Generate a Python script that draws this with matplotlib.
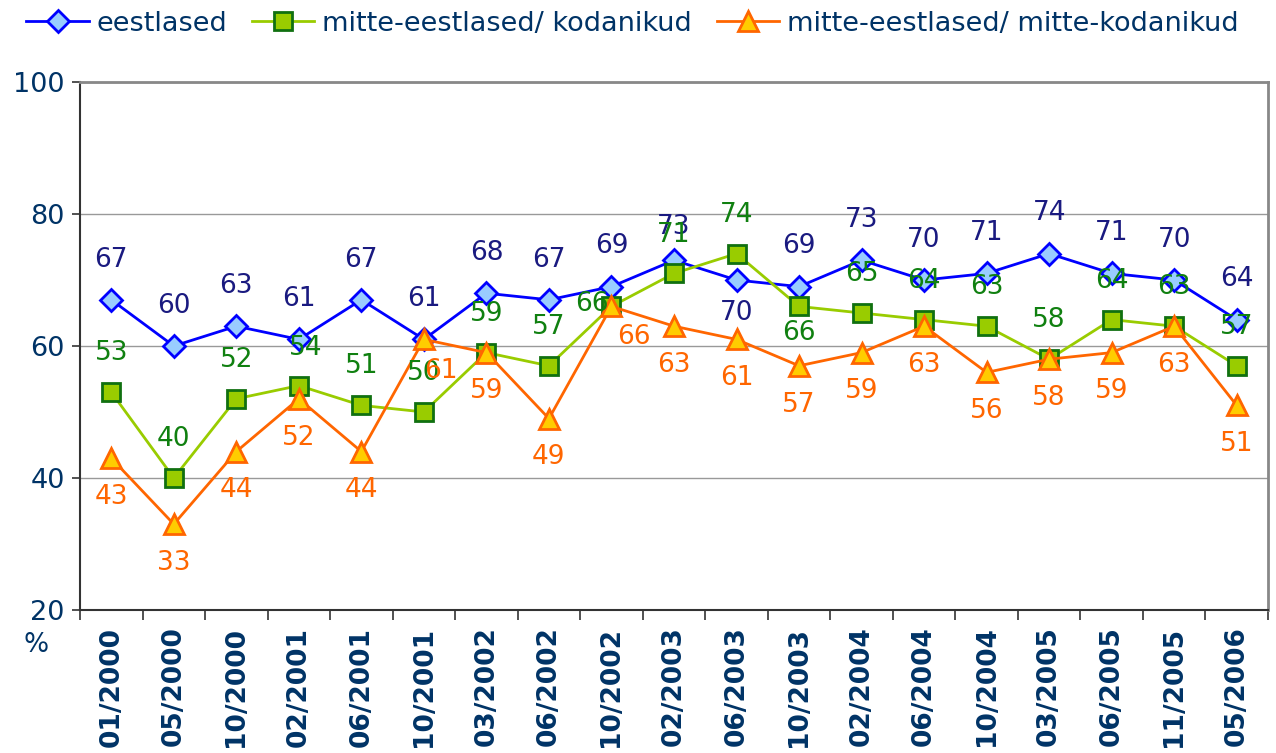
"""Umfrage-Zeitreihe: drei Gruppen, Anteil in %."""

import matplotlib
matplotlib.use("Agg")
import matplotlib.pyplot as plt
import numpy as np

periods = ["01/2000", "05/2000", "10/2000", "02/2001", "06/2001", "10/2001",
           "03/2002", "06/2002", "10/2002", "02/2003", "06/2003", "10/2003",
           "02/2004", "06/2004", "10/2004", "03/2005", "06/2005", "11/2005",
           "05/2006"]
eestlased = [67, 60, 63, 61, 67, 61, 68, 67, 69, 73, 70, 69, 73, 70, 71, 74, 71, 70, 64]
kodanikud = [53, 40, 52, 54, 51, 50, 59, 57, 66, 71, 74, 66, 65, 64, 63, 58, 64, 63, 57]
mitte_kodanikud = [43, 33, 44, 52, 44, 61, 59, 49, 66, 63, 61, 57, 59, 63, 56, 58, 59, 63, 51]

NAVY = "#003366"
FS = 19

plt.rcParams["font.family"] = ["DejaVu Sans"]

fig = plt.figure(figsize=(12.76, 7.53), dpi=100)
ax = fig.add_axes([0.0627, 0.19, 0.931, 0.701])

x = np.arange(len(periods))

series = [
    dict(y=eestlased, label="eestlased", color="#0000ff", marker="D", ms=11,
         mfc="#99ccff", mec="#0000ff", tcolor="#1a1a80", dy=29),
    dict(y=kodanikud, label="mitte-eestlased/ kodanikud", color="#99cc00", marker="s", ms=13,
         mfc="#99cc00", mec="#107010", tcolor="#108010", dy=28),
    dict(y=mitte_kodanikud, label="mitte-eestlased/ mitte-kodanikud", color="#ff6600", marker="^", ms=14,
         mfc="#ffcc00", mec="#ff6600", tcolor="#ff6600", dy=-28),
]

# Ausnahmen bei der Lage der Werte (Punkte)
special = {
    (0, 9): (0, 24),
    (0, 10): (0, -24),
    (1, 3): (5, 27),
    (1, 8): (-14, 2),
    (1, 11): (0, -19),
    (2, 5): (12, -23),
    (2, 8): (16, -22),
}

for si, s in enumerate(series):
    ax.plot(x, s["y"], color=s["color"], lw=2, marker=s["marker"], ms=s["ms"],
            mfc=s["mfc"], mec=s["mec"], mew=2, label=s["label"], zorder=3 + si)
    for i, v in enumerate(s["y"]):
        dx, dy = special.get((si, i), (0, s["dy"]))
        ax.annotate(f"{v:g}", (i, v), xytext=(dx, dy), textcoords="offset points",
                    ha="center", va="center", color=s["tcolor"], fontsize=FS,
                    zorder=10)

ax.set_xlim(-0.5, len(periods) - 0.5)
ax.set_ylim(20, 100)
ax.set_yticks([20, 40, 60, 80, 100])
ax.tick_params(axis="y", labelsize=19.5, labelcolor=NAVY, length=6, width=1.2,
               color="#333333", direction="out", pad=5)
ax.grid(axis="y", color="#999999", lw=1)
ax.set_axisbelow(True)

ax.set_xticks(np.arange(len(periods) + 1) - 0.5)
ax.set_xticklabels([])
ax.tick_params(axis="x", which="major", length=7, width=1.2, color="#333333")
ax.set_xticks(x, minor=True)
ax.set_xticklabels(periods, minor=True, rotation=90, fontsize=19,
                   fontweight="bold", color=NAVY)
ax.tick_params(axis="x", which="minor", length=0, pad=12)

for side in ["left", "bottom"]:
    ax.spines[side].set_color("#333333")
    ax.spines[side].set_linewidth(1.5)
for side in ["top", "right"]:
    ax.spines[side].set_color("#888888")
    ax.spines[side].set_linewidth(2)

fig.text(0.028, 0.143, "%", fontsize=FS, color=NAVY, ha="center", va="center")

fig.legend(loc="upper left", bbox_to_anchor=(0.008, 1.007), ncol=3, frameon=False,
           fontsize=19.5, labelcolor=NAVY, handlelength=2.3, handletextpad=0.3,
           columnspacing=0.9, borderaxespad=0.2)

fig.savefig("out.png", dpi=100)
